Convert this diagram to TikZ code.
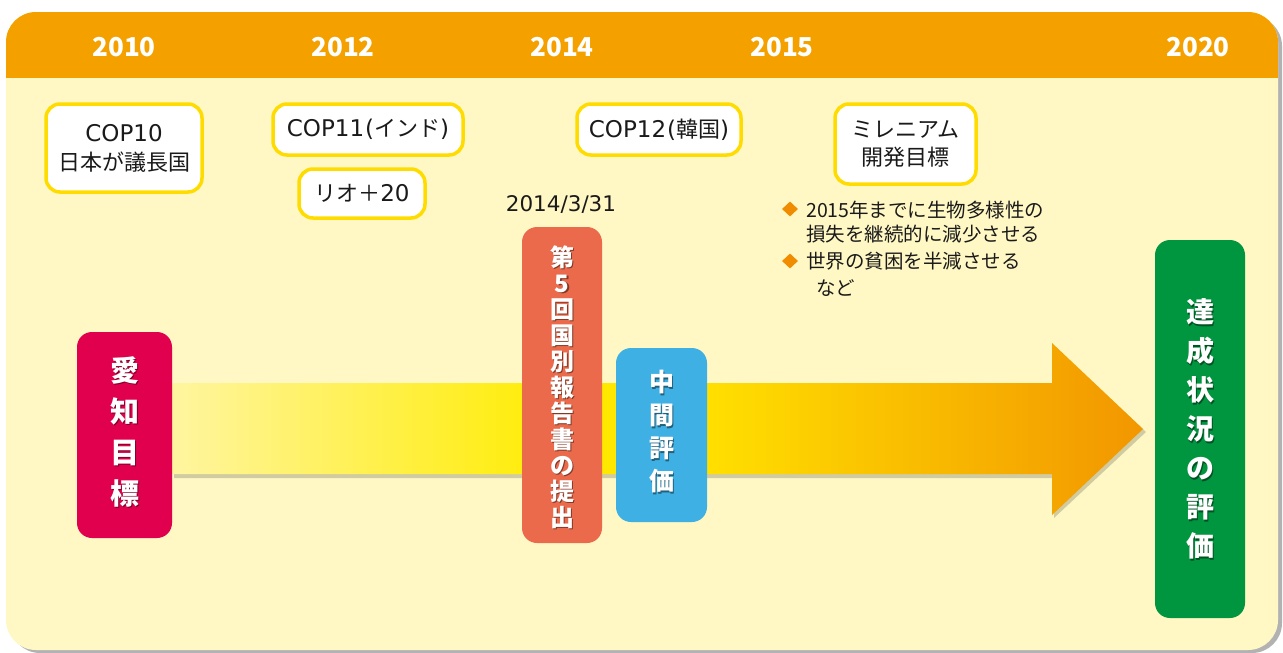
\documentclass[tikz,border=0pt]{standalone}
\usepackage{fontspec}
\setmainfont{Noto Sans CJK JP}
\newfontfamily\jp{Noto Sans CJK JP}
\newfontfamily\lat{DejaVu Sans}
\newcommand\latn[1]{{\lat\fontsize{23}{29}\selectfont #1}}
\usetikzlibrary{shapes.geometric}
\definecolor{hdr}{RGB}{244,161,0}
\definecolor{panelbody}{RGB}{255,248,197}
\definecolor{boxyellow}{RGB}{255,220,0}
\definecolor{aicrimson}{RGB}{224,0,77}
\definecolor{rptred}{RGB}{234,106,75}
\definecolor{midblue}{RGB}{63,176,227}
\definecolor{evalgreen}{RGB}{0,150,63}
\definecolor{bulletorange}{RGB}{240,140,0}
\definecolor{txt}{RGB}{26,26,26}
\definecolor{ag1}{RGB}{255,245,160}
\definecolor{ag2}{RGB}{255,236,0}
\definecolor{ag3}{RGB}{255,222,0}
\definecolor{ag4}{RGB}{242,150,0}
\pgfdeclarehorizontalshading{arrowgrad}{100bp}{color(0bp)=(ag1); color(25bp)=(ag1); color(45bp)=(ag2); color(53bp)=(ag3); color(75bp)=(ag4); color(100bp)=(ag4)}
\tikzset{
  year/.style={text=white, inner sep=0, font=\jp\bfseries\fontsize{26}{30}\selectfont},
  eventbox/.style={draw=boxyellow, line width=3.5pt, fill=white, rounded corners=14pt,
    inner sep=0, align=center, text=txt, font=\jp\fontsize{22}{29}\selectfont},
  vbox/.style={rounded corners=15pt, inner sep=0},
  vtext/.style={text=white, inner sep=0, align=center},
  vshadow/.style={text=black, opacity=0.45, inner sep=0, align=center},
  note/.style={text=txt, inner sep=0, font=\jp\fontsize{19.5}{24}\selectfont},
  bullet/.style={diamond, fill=bulletorange, minimum width=16pt, minimum height=15pt, inner sep=0}
}
\begin{document}
\begin{tikzpicture}[x=1pt,y=-1pt]
\useasboundingbox (0,0) rectangle (1283,653);
% panel with shadow
\fill[black!55, opacity=0.55, rounded corners=30pt] (10,16) rectangle (1282,653);
\fill[panelbody, rounded corners=30pt] (6,12) rectangle (1278,650);
\begin{scope}
  \clip[rounded corners=30pt] (6,12) rectangle (1278,650);
  \fill[hdr] (6,12) rectangle (1278,78);
\end{scope}
% years
\node[year] (y2010) at (124,47) {2010};
\node[year] (y2012) at (343,47) {2012};
\node[year] (y2014) at (562,47) {2014};
\node[year] (y2015) at (782,47) {2015};
\node[year] (y2020) at (1198,47) {2020};
% event boxes
\node[eventbox, minimum width=156pt, minimum height=88pt] (cop10) at (124,148) {\latn{COP10}\\日本が議長国};
\node[eventbox, minimum width=190pt, minimum height=51pt] (cop11) at (368,129.5) {\latn{COP11\kern1pt(}インド\latn{)}};
\node[eventbox, minimum width=126pt, minimum height=49pt] (rio) at (362,193.5) {リオ＋\latn{20}};
\node[eventbox, minimum width=164pt, minimum height=51pt] (cop12) at (659,129.5) {\latn{COP12\kern1pt(}韓国\latn{)}};
\node[eventbox, minimum width=141pt, minimum height=80pt, font=\jp\fontsize{22}{28}\selectfont] (mdg) at (905.5,144) {ミレニアム\\開発目標};
% date and notes
\node[note, font=\lat\fontsize{21.5}{24}\selectfont] (date) at (561,205) {2014/3/31};
\node[bullet] (d1) at (790,209) {};
\node[bullet] (d2) at (790,261) {};
\node[note, anchor=west] (n1) at (806,210) {2015年までに生物多様性の};
\node[note, anchor=west] (n2) at (806,234) {損失を継続的に減少させる};
\node[note, anchor=west] (n3) at (806,261) {世界の貧困を半減させる};
\node[note, anchor=west] (n4) at (816,288) {など};
% arrow with shadow
\fill[black, opacity=0.18] (174,386) -- (1054,386) -- (1054,346) -- (1146,432) -- (1054,518) -- (1054,478) -- (174,478) -- cycle;
\shade[shading=arrowgrad] (172,383) -- (1052,383) -- (1052,343) -- (1143,429) -- (1052,515) -- (1052,474) -- (172,474) -- cycle;
% vertical boxes
\node[vbox, fill=aicrimson, minimum width=95pt, minimum height=206pt] (aichi) at (124.5,435) {};
\node[vbox, fill=rptred, minimum width=80pt, minimum height=316pt] (report) at (562,385) {};
\node[vbox, fill=midblue, minimum width=91pt, minimum height=174pt] (mid) at (661.5,435) {};
\node[vbox, fill=evalgreen, minimum width=90pt, minimum height=378pt] (final) at (1200,429) {};
% vertical texts
\tikzset{fa/.style={font=\jp\bfseries\fontsize{29}{41}\selectfont},
         fr/.style={font=\jp\bfseries\fontsize{24}{26}\selectfont},
         fb/.style={font=\jp\bfseries\fontsize{25}{33}\selectfont},
         fg/.style={font=\jp\bfseries\fontsize{28}{39}\selectfont}}
\node[vshadow, fa] (aichis) at (126,433) {愛\\知\\目\\標};
\node[vtext, fa] (aichit) at (124.5,431.5) {愛\\知\\目\\標};
\node[vshadow, fr] (reports) at (563.5,388.5) {第\\5\\回\\国\\別\\報\\告\\書\\の\\提\\出};
\node[vtext, fr] (reportt) at (562,387) {第\\5\\回\\国\\別\\報\\告\\書\\の\\提\\出};
\node[vshadow, fb] (mids) at (663,433) {中\\間\\評\\価};
\node[vtext, fb] (midt) at (661.5,431.5) {中\\間\\評\\価};
\node[vshadow, fg] (finals) at (1201.5,430.5) {達\\成\\状\\況\\の\\評\\価};
\node[vtext, fg] (finalt) at (1200,429) {達\\成\\状\\況\\の\\評\\価};
\end{tikzpicture}
\end{document}
